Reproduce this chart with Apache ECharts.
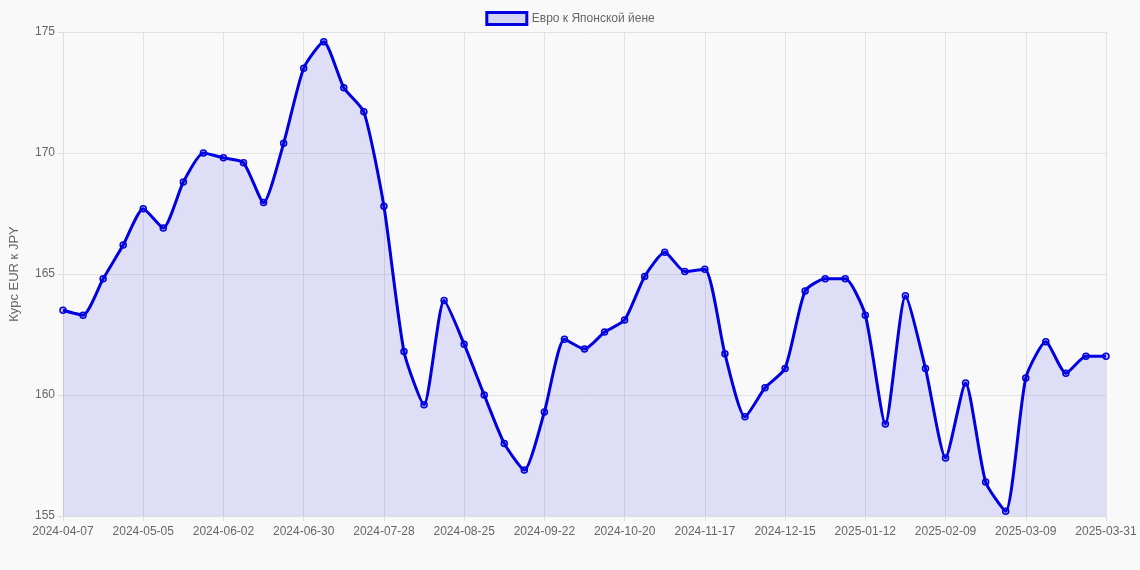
<!DOCTYPE html>
<html><head><meta charset="utf-8">
<script src="https://cdn.jsdelivr.net/npm/echarts@6/dist/echarts.min.js"></script>
<style>html,body{margin:0;background:#f9f9f9}#c{width:1140px;height:570px}</style>
</head><body><div id="c"></div>
<script>
const startDate = '2024-04-07';
const lastLabel = '2025-03-31';
const values = [163.5,163.3,164.8,166.2,167.7,166.9,168.8,170.0,169.8,169.6,167.95,170.4,173.5,174.6,172.7,171.7,167.8,161.8,159.6,163.9,162.1,160.0,158.0,156.9,159.3,162.3,161.9,162.6,163.1,164.9,165.9,165.1,165.2,161.7,159.1,160.3,161.1,164.3,164.8,164.8,163.3,158.8,164.1,161.1,157.4,160.5,156.4,155.2,160.7,162.2,160.9,161.6,161.6];
const seriesName = 'Евро к Японской йене';
const yTitle = 'Курс EUR к JPY';
const categories = [];
{const d=new Date(startDate+'T00:00:00Z');
 for(let i=0;i<values.length;i++){categories.push(i===values.length-1?lastLabel:new Date(d.getTime()+i*7*864e5).toISOString().slice(0,10));}}
const c=echarts.init(document.getElementById('c'));
c.setOption({
 backgroundColor:'#f9f9f9',
 textStyle:{fontFamily:'Liberation Sans, Arial'},
 legend:{top:6,itemWidth:40,itemHeight:12,textStyle:{color:'#666',fontSize:12},data:[{name:seriesName,icon:'rect',itemStyle:{color:'rgba(0,0,230,0.15)',borderColor:'#0000e0',borderWidth:3}}]},
 grid:{left:58,right:34,top:32,bottom:54},
 xAxis:{type:'category',data:categories,boundaryGap:false,
  axisLine:{lineStyle:{color:'#ddd'}},axisTick:{show:true,interval:3,lineStyle:{color:'#ddd'}},
  axisLabel:{interval:3,color:'#666',fontSize:12,margin:10,showMaxLabel:true},
  splitLine:{show:true,interval:3,lineStyle:{color:'#e2e2e2'}}},
 yAxis:{type:'value',min:155,max:175,interval:5,name:yTitle,nameLocation:'middle',nameGap:42,nameTextStyle:{color:'#666',fontSize:13},
  axisLine:{show:true,lineStyle:{color:'#ddd'}},axisTick:{show:true,lineStyle:{color:'#ddd'}},axisLabel:{color:'#666',fontSize:12},splitLine:{lineStyle:{color:'#e2e2e2'}}},
 series:[{name:seriesName,type:'line',data:values,symbol:'circle',symbolSize:6,
  lineStyle:{color:'#0000e0',width:3},itemStyle:{color:'rgba(0,0,230,0.2)',borderColor:'#0000e0',borderWidth:1.5},
  areaStyle:{color:'rgba(0,0,230,0.15)'},smooth:0.2}]
});
</script></body></html>
